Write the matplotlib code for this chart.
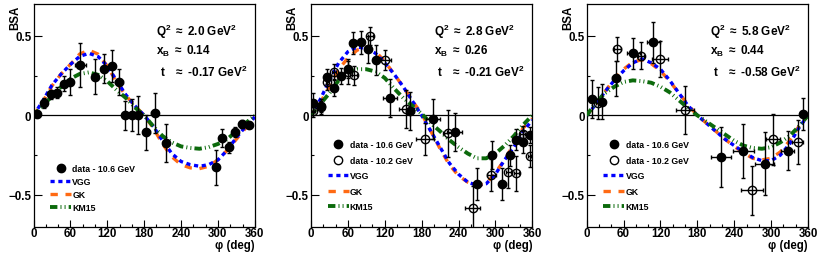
import matplotlib
matplotlib.use("Agg")
import matplotlib.pyplot as plt
from matplotlib.lines import Line2D
from matplotlib.ticker import MultipleLocator, FixedLocator, FuncFormatter

plt.rcParams['font.family'] = ['Liberation Sans', 'DejaVu Sans']
plt.rcParams['font.weight'] = 'bold'
plt.rcParams['mathtext.fontset'] = 'custom'
plt.rcParams['mathtext.rm'] = 'Liberation Sans:bold'
plt.rcParams['mathtext.bf'] = 'Liberation Sans:bold'
plt.rcParams['mathtext.it'] = 'Liberation Sans:bold'
plt.rcParams['mathtext.default'] = 'rm'

# ---------------- data ----------------
x_ticks = [0, 60, 120, 180, 240, 300, 360]
y_ticks = [-0.5, 0.0, 0.5]

curve_phi = [0, 15, 30, 45, 60, 75, 90, 105, 120, 135, 150, 165, 180,
             195, 210, 225, 240, 255, 270, 285, 300, 315, 330, 345, 360]

# panel 1 (Q2 = 2.0)
p1_phi = [6.4, 17.1, 27.9, 38.7, 48.9, 59.2, 76.4, 100.6, 115.2, 128.1, 138.9, 149, 160,
          169.6, 183.5, 197, 215.2, 296.8, 307, 317.8, 327.5, 338.8, 350.7]
p1_bsa = [0.01, 0.078, 0.132, 0.141, 0.20, 0.21, 0.317, 0.244, 0.294, 0.311, 0.21, 0.0, 0.0,
          0.0, -0.106, 0.017, -0.173, -0.326, -0.141, -0.20, -0.103, -0.054, -0.06]
p1_err = [0.02, 0.03, 0.03, 0.035, 0.047, 0.079, 0.14, 0.11, 0.09, 0.10, 0.08, 0.09, 0.10,
          0.12, 0.11, 0.126, 0.12, 0.11, 0.055, 0.035, 0.03, 0.025, 0.02]
p1_xerr = [3, 3, 3, 3, 4, 4, 9, 4, 4, 4, 7, 4, 4, 4, 6, 6, 5, 5, 4, 4, 4, 4, 4]
p1_vgg = [0, 0.09, 0.19, 0.26, 0.32, 0.37, 0.39, 0.37, 0.31, 0.22, 0.13, 0.06, 0.0,
          -0.07, -0.16, -0.24, -0.29, -0.31, -0.32, -0.31, -0.28, -0.22, -0.14, -0.07, -0.01]
p1_gk = [0, 0.085, 0.185, 0.26, 0.32, 0.385, 0.41, 0.385, 0.31, 0.21, 0.125, 0.06, 0.0,
         -0.08, -0.18, -0.26, -0.31, -0.33, -0.335, -0.32, -0.28, -0.22, -0.15, -0.08, -0.01]
p1_km15 = [0, 0.06, 0.12, 0.18, 0.23, 0.26, 0.27, 0.255, 0.215, 0.16, 0.11, 0.05, 0.0,
           -0.07, -0.13, -0.17, -0.195, -0.205, -0.21, -0.2, -0.18, -0.15, -0.1, -0.05, 0.0]

# panel 2 (Q2 = 2.8)
p2a_phi = [3.8, 15.8, 26.6, 37.5, 48.4, 59.8, 69, 81, 92.4, 106, 128.3, 161.4, 198.5,
           233.5, 270, 294, 311.5, 323, 334, 344.6, 355.5]
p2a_bsa = [0.078, 0.06, 0.244, 0.175, 0.248, 0.294, 0.454, 0.458, 0.416, 0.347, 0.111, 0.027,
           -0.021, -0.105, -0.43, -0.25, -0.43, -0.251, -0.153, -0.166, -0.125]
p2a_err = [0.06, 0.04, 0.05, 0.055, 0.05, 0.06, 0.07, 0.07, 0.085, 0.095, 0.12, 0.12, 0.125,
           0.12, 0.1, 0.09, 0.1, 0.065, 0.065, 0.07, 0.05]
p2a_xerr = [3, 3, 3, 3, 4, 4, 4, 4, 5, 5, 11, 6, 12, 12, 7, 5, 5, 4, 4, 4, 3]
p2b_phi = [3.8, 15.8, 26.6, 37.5, 60, 70.5, 96.2, 120.7, 155, 185.5, 222.6, 263.3, 293.5,
           320.7, 333.7, 344.6, 355.5]
p2b_bsa = [0.03, 0.05, 0.21, 0.273, 0.27, 0.252, 0.5, 0.347, 0.04, -0.151, -0.114, -0.582,
           -0.374, -0.357, -0.363, -0.115, -0.254]
p2b_err = [0.04, 0.04, 0.05, 0.05, 0.07, 0.06, 0.055, 0.065, 0.12, 0.1, 0.15, 0.14, 0.1,
           0.1, 0.11, 0.05, 0.07]
p2b_xerr = [3, 3, 3, 3, 4, 4, 4, 10, 12, 14, 8, 12, 8, 4, 4, 4, 3]
p2_vgg = [0, 0.10, 0.22, 0.33, 0.40, 0.43, 0.42, 0.39, 0.33, 0.26, 0.18, 0.09, 0.0,
          -0.1, -0.2, -0.3, -0.37, -0.42, -0.44, -0.43, -0.37, -0.28, -0.2, -0.1, -0.03]
p2_gk = [0, 0.08, 0.18, 0.29, 0.36, 0.41, 0.43, 0.40, 0.34, 0.26, 0.18, 0.09, 0.01,
         -0.1, -0.21, -0.31, -0.38, -0.42, -0.44, -0.43, -0.36, -0.28, -0.18, -0.08, -0.02]
p2_km15 = [0, 0.07, 0.14, 0.22, 0.27, 0.29, 0.29, 0.275, 0.235, 0.17, 0.11, 0.06, 0.01,
           -0.05, -0.1, -0.155, -0.2, -0.24, -0.27, -0.27, -0.24, -0.19, -0.13, -0.06, 0.0]

# panel 3 (Q2 = 5.8)
p3a_phi = [8, 24.4, 47.7, 76, 108.6, 218.8, 255, 289.3, 327, 352]
p3a_bsa = [0.105, 0.086, 0.233, 0.389, 0.458, -0.263, -0.225, -0.303, -0.221, 0.006]
p3a_err = [0.12, 0.11, 0.11, 0.095, 0.126, 0.19, 0.17, 0.2, 0.125, 0.1]
p3a_xerr = [5, 5, 6, 10, 10, 16, 17, 15, 11, 5]
p3b_phi = [19, 49.9, 88.5, 119.4, 160, 268.8, 303, 343]
p3b_bsa = [0.076, 0.416, 0.374, 0.353, 0.032, -0.471, -0.151, -0.168]
p3b_err = [0.1, 0.075, 0.085, 0.115, 0.15, 0.155, 0.16, 0.14]
p3b_xerr = [4, 6, 5, 13, 15, 18, 12, 9]
p3_vgg = [0, 0.07, 0.15, 0.22, 0.28, 0.33, 0.355, 0.33, 0.29, 0.22, 0.14, 0.06, 0.0,
          -0.05, -0.1, -0.15, -0.19, -0.23, -0.265, -0.285, -0.285, -0.25, -0.18, -0.08, 0.0]
p3_gk = [0, 0.07, 0.15, 0.23, 0.29, 0.335, 0.35, 0.325, 0.28, 0.215, 0.14, 0.065, 0.0,
         -0.05, -0.1, -0.15, -0.195, -0.235, -0.27, -0.28, -0.27, -0.23, -0.16, -0.07, 0.0]
p3_km15 = [0, 0.08, 0.14, 0.18, 0.21, 0.22, 0.215, 0.205, 0.18, 0.145, 0.095, 0.045, 0.0,
           -0.04, -0.08, -0.12, -0.16, -0.19, -0.205, -0.21, -0.2, -0.17, -0.13, -0.07, 0.0]

kin_q2 = ["2.0", "2.8", "5.8"]
kin_xb = ["0.14", "0.26", "0.44"]
kin_t = ["-0.17", "-0.21", "-0.58"]

# ---------------- style ----------------
VGG_STYLE = dict(color='#0000FF', lw=2.4, dashes=(1.25, 1.1))
GK_STYLE = dict(color='#FF6A13', lw=2.4, dashes=(2.2, 2.3))
KM_STYLE = dict(color='#0C6A0C', lw=2.8, dashes=(1.9, 0.8, 0.25, 0.8, 0.25, 0.8))

panels = [
    dict(filled=(p1_phi, p1_bsa, p1_err, p1_xerr), opened=None,
         vgg=p1_vgg, gk=p1_gk, km=p1_km15, left=33.5),
    dict(filled=(p2a_phi, p2a_bsa, p2a_err, p2a_xerr),
         opened=(p2b_phi, p2b_bsa, p2b_err, p2b_xerr),
         vgg=p2_vgg, gk=p2_gk, km=p2_km15, left=311.0),
    dict(filled=(p3a_phi, p3a_bsa, p3a_err, p3a_xerr),
         opened=(p3b_phi, p3b_bsa, p3b_err, p3b_xerr),
         vgg=p3_vgg, gk=p3_gk, km=p3_km15, left=586.7),
]

W, H = 830, 255
fig = plt.figure(figsize=(W / 100, H / 100), dpi=100)

ax_w = 221.3
ax_top = 5.0
ax_bot = 227.7


def yfmt(v, pos):
    if abs(v) < 1e-9:
        return "0"
    s = f"{abs(v):.1f}"
    return ("\u2212" + s) if v < 0 else s


for i, p in enumerate(panels):
    ax = fig.add_axes([p['left'] / W, (H - ax_bot) / H, ax_w / W, (ax_bot - ax_top) / H])
    ax.set_xlim(0, 360)
    ax.set_ylim(-0.7, 0.7)
    ax.axhline(0, color='black', lw=0.9, zorder=1)

    ax.plot(curve_phi, p['gk'], zorder=2, **GK_STYLE)
    ax.plot(curve_phi, p['vgg'], zorder=3, **VGG_STYLE)
    ax.plot(curve_phi, p['km'], zorder=4, **KM_STYLE)

    if p['opened'] is not None:
        x, y, e, xe = p['opened']
        ax.errorbar(x, y, yerr=e, xerr=xe, fmt='o', ms=6, mfc='none', mec='black', mew=1.0,
                    ecolor='black', elinewidth=1.0, capsize=1.6, capthick=1.0, zorder=5)
    x, y, e, xe = p['filled']
    ax.errorbar(x, y, yerr=e, xerr=xe, fmt='o', ms=6, mfc='black', mec='black',
                ecolor='black', elinewidth=1.0, capsize=1.6, capthick=1.0, zorder=6)

    ax.xaxis.set_major_locator(FixedLocator(x_ticks))
    ax.xaxis.set_minor_locator(MultipleLocator(20))
    ax.yaxis.set_major_locator(FixedLocator(y_ticks))
    ax.yaxis.set_minor_locator(MultipleLocator(0.25))
    ax.yaxis.set_major_formatter(FuncFormatter(yfmt))
    ax.tick_params(which='both', direction='in', top=False, right=False, width=0.8)
    ax.tick_params(which='major', axis='x', length=5, labelsize=8.3, pad=0.5)
    ax.tick_params(which='major', axis='y', length=6, labelsize=8.3, pad=1.5)
    ax.tick_params(which='minor', length=2.5)
    for sp in ax.spines.values():
        sp.set_linewidth(0.9)

    ax.text(-18.5 / ax_w, 0.995, "BSA", rotation=90, ha='center', va='top',
            fontsize=8.3, fontweight='bold', transform=ax.transAxes)
    ax.text(1.0, -0.083, "\u03c6 (deg)", ha='right', va='center',
            fontsize=8.3, fontweight='bold', transform=ax.transAxes)

    ax.text(0.555, 0.880, r"Q$^{2}$ $\approx$ " + kin_q2[i] + r" GeV$^{2}$",
            fontsize=8.5, ha='left', va='center', transform=ax.transAxes)
    ax.text(0.555, 0.793, r"x$_{\mathrm{B}}$ $\approx$ " + kin_xb[i],
            fontsize=8.5, ha='left', va='center', transform=ax.transAxes)
    ax.text(0.57, 0.699, r"t   $\approx$ " + kin_t[i] + r" GeV$^{2}$",
            fontsize=8.5, ha='left', va='center', transform=ax.transAxes)

    handles = [Line2D([], [], marker='o', ls='none', color='black', ms=6)]
    labels = ["data - 10.6 GeV"]
    if p['opened'] is not None:
        handles.append(Line2D([], [], marker='o', ls='none', mfc='none', mec='black', ms=6, mew=1.0))
        labels.append("data - 10.2 GeV")
    handles += [Line2D([], [], **VGG_STYLE), Line2D([], [], **GK_STYLE), Line2D([], [], **KM_STYLE)]
    labels += ["VGG", "GK", "KM15"]
    if p['opened'] is None:
        top = (ax_bot - 165.5) / (ax_bot - ax_top)
        spacing = 0.45
    else:
        top = (ax_bot - 141.0) / (ax_bot - ax_top)
        spacing = 0.75
    ax.legend(handles, labels, loc='upper left', bbox_to_anchor=(16.5 / ax_w, top),
              frameon=False, fontsize=6.3, handlelength=2.4, handletextpad=0.15,
              borderpad=0, borderaxespad=0, labelspacing=spacing)

fig.savefig("out.png", dpi=100)
